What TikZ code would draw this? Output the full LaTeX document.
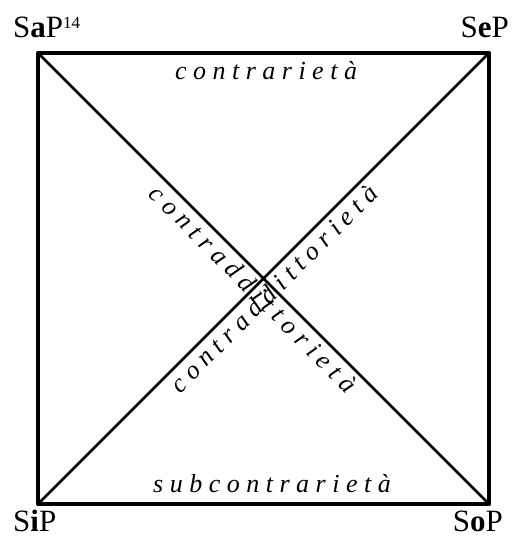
\documentclass[tikz,border=0pt]{standalone}
\usepackage{fontspec}
\setmainfont{Liberation Serif}
\newfontfamily\spacedfont[LetterSpace=25]{Liberation Serif}
\usetikzlibrary{positioning}

\begin{document}
\begin{tikzpicture}[x=1pt,y=1pt,
  corner/.style={inner sep=0pt,font=\fontsize{31}{31}\selectfont},
  relation/.style={inner sep=0pt,font=\spacedfont\itshape\fontsize{26}{26}\selectfont}]
\useasboundingbox (0,0) rectangle (512,538);
\coordinate (A) at (38,485); \coordinate (E) at (489,485);
\coordinate (I) at (38,34); \coordinate (O) at (489,34);
\coordinate (c) at (263.5,259.5);
% square and diagonals
\draw[line width=4.5pt,line join=round] (A) -- (E) -- (O) -- (I) -- cycle;
\draw[line width=2.8pt] (A) -- (O) (I) -- (E);
% corner labels
\node[corner,anchor=base west] (sap) at (13,500) {S\textbf{a}P\textsuperscript{\fontsize{17}{17}\selectfont 14}};
\node[corner,anchor=base east] (sep) at (509,500) {S\textbf{e}P};
\node[corner,anchor=base west] (sip) at (13,6) {S\textbf{i}P};
\node[corner,anchor=base east] (sop) at (503,6) {S\textbf{o}P};
% relations
\node[relation,anchor=base] (contr) at (266,458) {contrarietà};
\node[relation,anchor=base] (subc) at (272,45) {subcontrarietà};
\node[relation,anchor=north,rotate=-45,yshift=-5pt] (cd1) at (c) {contraddittorietà};
\node[relation,anchor=north,rotate=45,yshift=-5pt] (cd2) at (c) {contraddittorietà};
\end{tikzpicture}
\end{document}
